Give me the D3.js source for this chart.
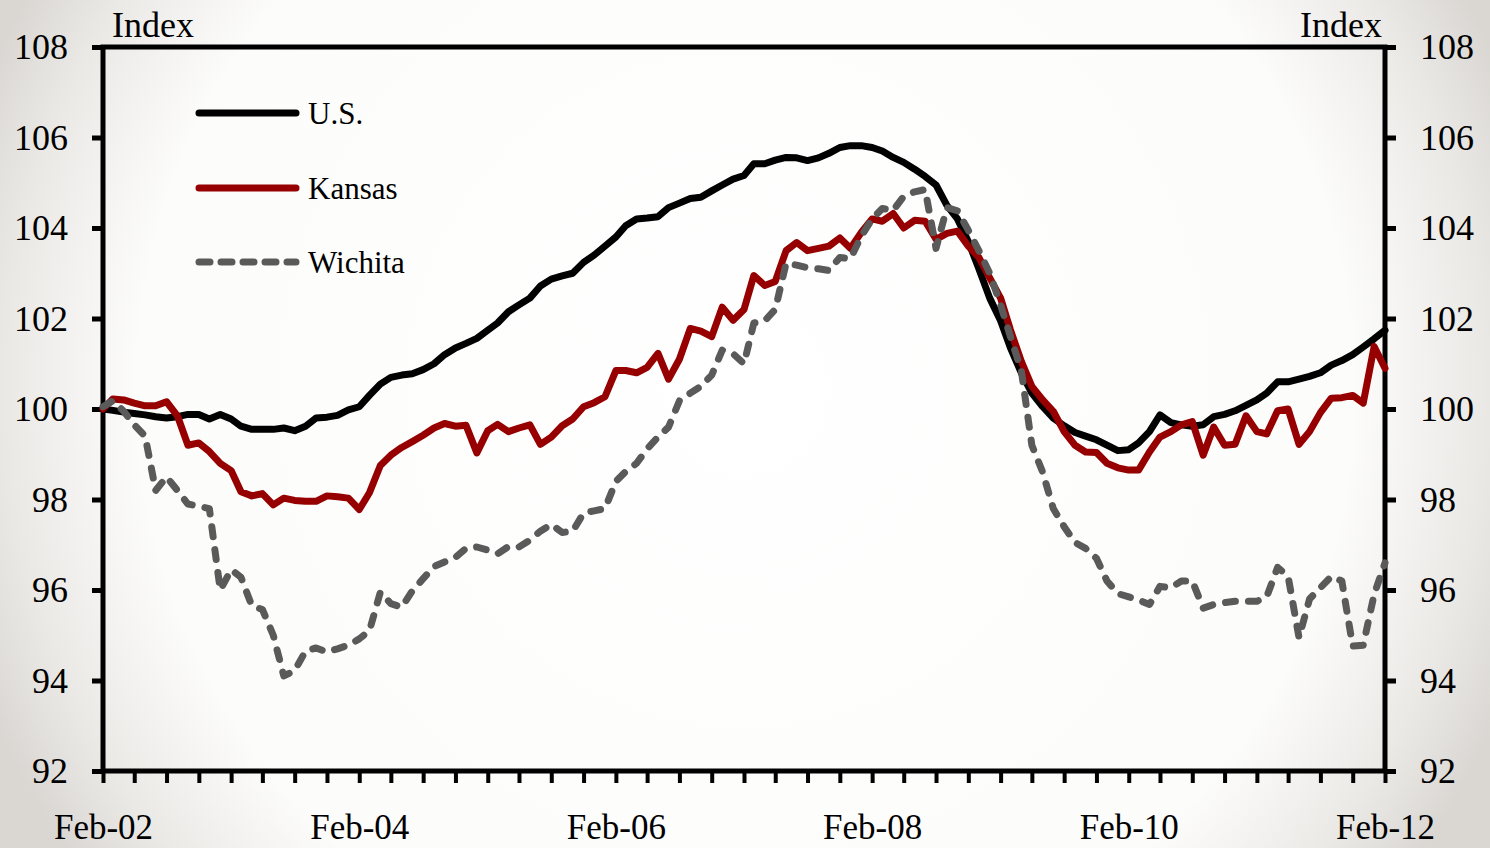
<!DOCTYPE html>
<html>
<head>
<meta charset="utf-8">
<script src="https://cdn.jsdelivr.net/npm/d3@7"></script>
<style>
  html, body { margin: 0; padding: 0; background: #ffffff; }
  svg { display: block; }
  text { font-family: "Liberation Serif", "Times New Roman", serif; fill: #000; }
</style>
</head>
<body>
<svg id="chart" width="1490" height="848"></svg>
<script>
// ---- Data (monthly, Feb-2002 .. Feb-2012) ----
const startMonth = "2002-02";
const endMonth = "2012-02";
const seriesNames = ["U.S.", "Kansas", "Wichita"];
const yTicks = [92, 94, 96, 98, 100, 102, 104, 106, 108];
const xLabelYears = ["Feb-02", "Feb-04", "Feb-06", "Feb-08", "Feb-10", "Feb-12"];

const us = [
  100.0, 99.97, 99.93, 99.9, 99.87, 99.83, 99.8, 99.83, 99.88, 99.88,
  99.78, 99.88, 99.78, 99.62, 99.55, 99.55, 99.55, 99.58, 99.52, 99.62,
  99.8, 99.82, 99.86, 99.98, 100.05, 100.3, 100.55, 100.7, 100.75, 100.78,
  100.87, 101.0, 101.2, 101.35, 101.45, 101.56, 101.74, 101.9, 102.15, 102.3,
  102.45, 102.72, 102.87, 102.94, 103.0, 103.24, 103.4, 103.6, 103.8, 104.05,
  104.2, 104.22, 104.25, 104.45, 104.55, 104.65, 104.68, 104.82, 104.95, 105.08,
  105.16, 105.42, 105.42, 105.5, 105.56, 105.55, 105.49, 105.55, 105.65, 105.78,
  105.82, 105.82, 105.78, 105.7, 105.56, 105.45, 105.3, 105.14, 104.95, 104.5,
  104.2, 103.7, 103.1, 102.45, 101.95, 101.35, 100.8, 100.35, 100.05, 99.8,
  99.63, 99.48, 99.4, 99.32, 99.2, 99.08, 99.1, 99.25, 99.5, 99.87,
  99.7, 99.65, 99.62, 99.65, 99.83, 99.88, 99.96, 100.08, 100.2, 100.35,
  100.6, 100.6, 100.66, 100.72, 100.8, 100.97, 101.07, 101.2, 101.37, 101.55,
  101.74
];

const kansas = [
  100.0, 100.22, 100.2, 100.13, 100.07, 100.07, 100.16, 99.85, 99.2, 99.25,
  99.06, 98.8, 98.64, 98.17, 98.08, 98.13, 97.88, 98.03, 97.98, 97.96,
  97.96, 98.08, 98.06, 98.03, 97.78, 98.15, 98.75, 98.98, 99.15, 99.28,
  99.42, 99.58, 99.68, 99.62, 99.64, 99.03, 99.52, 99.66, 99.5, 99.58,
  99.65, 99.22, 99.38, 99.63, 99.78, 100.05, 100.14, 100.27, 100.85, 100.85,
  100.8, 100.92, 101.23, 100.66, 101.1, 101.78, 101.72, 101.6, 102.25, 101.96,
  102.2, 102.95, 102.73, 102.82, 103.5, 103.68, 103.5, 103.55, 103.6, 103.78,
  103.55, 103.9, 104.2, 104.15, 104.32, 104.0, 104.17, 104.15, 103.75, 103.88,
  103.93, 103.6, 103.35, 102.9, 102.45, 101.75, 101.05, 100.5, 100.2, 99.95,
  99.5, 99.2, 99.05, 99.04, 98.8, 98.7, 98.65, 98.65, 99.05, 99.38,
  99.5, 99.65, 99.72, 98.98, 99.6, 99.2, 99.22, 99.85, 99.5, 99.45,
  99.96, 100.0, 99.22, 99.5, 99.92, 100.24, 100.25, 100.3, 100.13, 101.38,
  100.9
];

const wichita = [
  100.05, 100.18, 99.95, 99.65, 99.4, 98.2, 98.5, 98.2, 97.9, 97.85,
  97.8, 96.0, 96.45, 96.28, 95.65, 95.57, 95.0, 94.1, 94.22, 94.65,
  94.72, 94.63, 94.7, 94.78, 94.92, 95.1, 95.95, 95.7, 95.62, 95.98,
  96.25, 96.52, 96.62, 96.72, 96.92, 96.95, 96.88, 96.8, 96.96, 96.95,
  97.1, 97.3, 97.45, 97.27, 97.3, 97.7, 97.75, 97.8, 98.4, 98.62,
  98.8, 99.12, 99.38, 99.6, 100.18, 100.35, 100.5, 100.75, 101.3, 101.22,
  101.0, 101.9, 101.95, 102.2, 103.22, 103.18, 103.12, 103.1, 103.06, 103.35,
  103.32, 103.82, 104.2, 104.43, 104.39, 104.7, 104.8, 104.85, 103.55, 104.45,
  104.38, 103.95, 103.5, 103.0, 102.3, 101.6, 100.85, 99.2, 98.6, 97.8,
  97.4, 97.05, 96.92, 96.7, 96.2, 95.92, 95.85, 95.78, 95.68, 96.08,
  96.05, 96.2, 96.2, 95.6, 95.68, 95.72, 95.75, 95.75, 95.75, 95.85,
  96.5, 96.3, 94.95, 95.8, 96.05, 96.3, 96.2, 94.76, 94.78, 95.9,
  96.6
];

// ---- Layout ----
const W = 1490, H = 848;
const pL = 103, pR = 1385, pT = 47, pB = 771;
const colors = { us: "#000000", kansas: "#960000", wichita: "#5a5a5a" };

const parse = d3.timeParse("%Y-%m");
const t0 = parse(startMonth), t1 = parse(endMonth);
const months = d3.timeMonth.range(t0, d3.timeMonth.offset(t1, 1));
const quarterTicks = months.filter((d, i) => i % 3 === 0);

const svg = d3.select("#chart");

// background vignette
const defs = svg.append("defs");
const rg = defs.append("radialGradient").attr("id", "bg")
  .attr("gradientUnits", "userSpaceOnUse")
  .attr("cx", 745).attr("cy", 390).attr("r", 820);
rg.append("stop").attr("offset", "0").attr("stop-color", "#ffffff");
rg.append("stop").attr("offset", "0.74").attr("stop-color", "#fcfcfb");
rg.append("stop").attr("offset", "0.9").attr("stop-color", "#ebe9e6");
rg.append("stop").attr("offset", "1").attr("stop-color", "#dad7d3");
svg.append("rect").attr("width", W).attr("height", H).attr("fill", "url(#bg)");

const x = d3.scaleTime().domain([t0, t1]).range([pL, pR]);
const y = d3.scaleLinear().domain([92, 108]).range([pB, pT]);

// ---- Axes ----
const fmt = d3.timeFormat("%b-%y");

const xAxis = d3.axisBottom(x)
  .tickValues(quarterTicks)
  .tickSize(12)
  .tickFormat(d => { const s = fmt(d); return xLabelYears.includes(s) ? s : ""; });
const gx = svg.append("g").attr("transform", `translate(0,${pB})`).call(xAxis);
gx.select(".domain").remove();
gx.selectAll(".tick line").attr("stroke", "#000").attr("stroke-width", 4);
gx.selectAll(".tick text").attr("font-size", 35).attr("dy", 0).attr("y", 68)
  .attr("font-family", "Liberation Serif");

const yAxisL = d3.axisLeft(y).tickValues(yTicks).tickSize(11).tickPadding(24);
const gyl = svg.append("g").attr("transform", `translate(${pL},0)`).call(yAxisL);
gyl.select(".domain").remove();
gyl.selectAll(".tick line").attr("stroke", "#000").attr("stroke-width", 5);
gyl.selectAll(".tick text").attr("font-size", 36).attr("dy", "0.33em")
  .attr("font-family", "Liberation Serif");

const yAxisR = d3.axisRight(y).tickValues(yTicks).tickSize(11).tickPadding(24);
const gyr = svg.append("g").attr("transform", `translate(${pR},0)`).call(yAxisR);
gyr.select(".domain").remove();
gyr.selectAll(".tick line").attr("stroke", "#000").attr("stroke-width", 5);
gyr.selectAll(".tick text").attr("font-size", 36).attr("dy", "0.33em")
  .attr("font-family", "Liberation Serif");

// frame
svg.append("rect").attr("x", pL).attr("y", pT)
  .attr("width", pR - pL).attr("height", pB - pT)
  .attr("fill", "none").attr("stroke", "#000").attr("stroke-width", 5);

svg.append("text").attr("x", 112).attr("y", 37).attr("font-size", 36).text("Index");
svg.append("text").attr("x", 1382).attr("y", 37).attr("font-size", 36)
  .attr("text-anchor", "end").text("Index");

// ---- Lines ----
const line = d3.line().x((d, i) => x(months[i])).y(d => y(d));

svg.append("path").datum(us).attr("d", line)
  .attr("fill", "none").attr("stroke", colors.us).attr("stroke-width", 7)
  .attr("stroke-linejoin", "round").attr("stroke-linecap", "round");
svg.append("path").datum(kansas).attr("d", line)
  .attr("fill", "none").attr("stroke", colors.kansas).attr("stroke-width", 7)
  .attr("stroke-linejoin", "round").attr("stroke-linecap", "round");
svg.append("path").datum(wichita).attr("d", line)
  .attr("fill", "none").attr("stroke", colors.wichita).attr("stroke-width", 7)
  .attr("stroke-dasharray", "10,13")
  .attr("stroke-linejoin", "round").attr("stroke-linecap", "round");

// ---- Legend ----
const legend = [
  { name: seriesNames[0], color: colors.us, dash: null, yy: 113 },
  { name: seriesNames[1], color: colors.kansas, dash: null, yy: 188 },
  { name: seriesNames[2], color: colors.wichita, dash: "11,11", yy: 262 }
];
const lg = svg.append("g");
legend.forEach(l => {
  lg.append("line").attr("x1", 199).attr("x2", 296).attr("y1", l.yy).attr("y2", l.yy)
    .attr("stroke", l.color).attr("stroke-width", 7).attr("stroke-linecap", "round")
    .attr("stroke-dasharray", l.dash);
  lg.append("text").attr("x", 308).attr("y", l.yy + 11).attr("font-size", 31).text(l.name);
});
</script>
</body>
</html>
